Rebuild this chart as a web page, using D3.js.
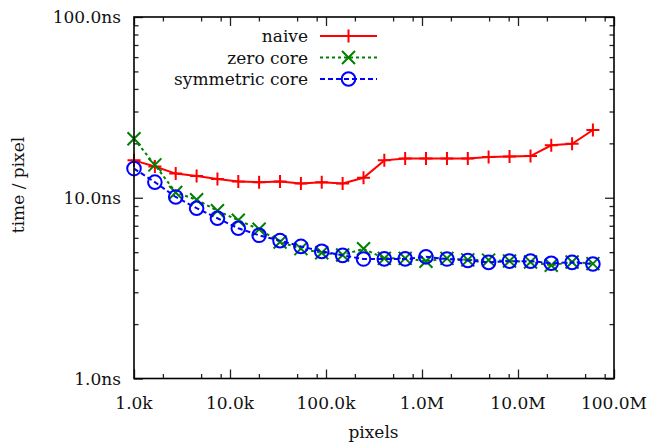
<!DOCTYPE html>
<html>
<head>
<meta charset="utf-8">
<script src="https://cdn.jsdelivr.net/npm/d3@7"></script>
<style>
  html, body { margin: 0; padding: 0; background: #fff; }
  svg { display: block; }
  text { font-family: "DejaVu Serif", serif; fill: #111; }
</style>
</head>
<body>
<svg id="chart" width="652" height="444"></svg>
<script>
// ---- data ----
const pixels = [1000, 1650, 2720, 4490, 7400, 12200, 20100, 33200, 54800, 90300,
  149000, 246000, 405000, 668000, 1100000, 1820000, 3000000, 4940000, 8160000,
  13500000, 22200000, 36600000, 60300000];
const naive = [16.1, 14.9, 13.6, 13.2, 12.7, 12.3, 12.2, 12.3, 12.0, 12.2, 12.0, 12.9,
  16.1, 16.5, 16.5, 16.5, 16.5, 16.8, 16.9, 17.0, 19.5, 19.9, 23.7];
const zeroCore = [21.2, 15.2, 10.7, 9.75, 8.47, 7.51, 6.69, 5.69, 5.23, 4.96, 4.82, 5.22,
  4.62, 4.62, 4.45, 4.62, 4.53, 4.52, 4.47, 4.41, 4.23, 4.41, 4.32];
const symmetricCore = [14.5, 12.2, 10.1, 8.75, 7.70, 6.78, 6.20, 5.79, 5.38, 5.05, 4.80, 4.58,
  4.59, 4.59, 4.71, 4.58, 4.50, 4.39, 4.46, 4.46, 4.34, 4.39, 4.30];
const seriesNames = ["naive", "zero core", "symmetric core"];
const xTickValues = [1e3, 1e4, 1e5, 1e6, 1e7, 1e8];
const xTickLabels = ["1.0k", "10.0k", "100.0k", "1.0M", "10.0M", "100.0M"];
const yTickValues = [1, 10, 100];
const yTickLabels = ["1.0ns", "10.0ns", "100.0ns"];
const xMinorMultipliers = [2, 5, 8];
const yMinorMultipliers = [2, 3, 4, 5, 6, 7, 8, 9];

// ---- layout ----
const L = 134, R = 614, T = 17, B = 378.5;
const FS = 17;
const svg = d3.select("#chart");
const x = d3.scaleLog().domain([1e3, 1e8]).range([L, R]);
const y = d3.scaleLog().domain([1, 100]).range([B, T]);

const series = [
  { name: seriesNames[0], values: naive, color: "#ff0000", dash: null, marker: "plus" },
  { name: seriesNames[1], values: zeroCore, color: "#008000", dash: "3,3", marker: "cross" },
  { name: seriesNames[2], values: symmetricCore, color: "#0000ff", dash: "5,3", marker: "circle" }
];

// minor tick values
const xMinor = [];
for (let d = 1e3; d < 1e8; d *= 10) xMinorMultipliers.forEach(m => xMinor.push(d * m));
const yMinor = [];
for (let d = 1; d < 100; d *= 10) yMinorMultipliers.forEach(m => yMinor.push(d * m));

const tickColor = "#222";
function styleAxis(g) {
  g.select(".domain").remove();
  g.selectAll("line").attr("stroke", tickColor).attr("stroke-width", 1.3);
  g.selectAll("text").remove();
}
svg.append("g").attr("transform", `translate(0,${B})`)
  .call(d3.axisBottom(x).tickValues(xTickValues).tickSize(-9)).call(styleAxis);
svg.append("g").attr("transform", `translate(0,${B})`)
  .call(d3.axisBottom(x).tickValues(xMinor).tickSize(-4.5)).call(styleAxis);
svg.append("g").attr("transform", `translate(0,${T})`)
  .call(d3.axisTop(x).tickValues(xTickValues).tickSize(-9)).call(styleAxis);
svg.append("g").attr("transform", `translate(0,${T})`)
  .call(d3.axisTop(x).tickValues(xMinor).tickSize(-4.5)).call(styleAxis);
svg.append("g").attr("transform", `translate(${L},0)`)
  .call(d3.axisLeft(y).tickValues(yTickValues).tickSize(-9)).call(styleAxis);
svg.append("g").attr("transform", `translate(${L},0)`)
  .call(d3.axisLeft(y).tickValues(yMinor).tickSize(-4.5)).call(styleAxis);
svg.append("g").attr("transform", `translate(${R},0)`)
  .call(d3.axisRight(y).tickValues(yTickValues).tickSize(-9)).call(styleAxis);
svg.append("g").attr("transform", `translate(${R},0)`)
  .call(d3.axisRight(y).tickValues(yMinor).tickSize(-4.5)).call(styleAxis);

// tick labels
svg.append("g").selectAll("text").data(xTickValues).join("text")
  .attr("x", d => x(d)).attr("y", 408.5)
  .attr("text-anchor", "middle").attr("font-size", FS)
  .text((d, i) => xTickLabels[i]);
svg.append("g").selectAll("text").data(yTickValues).join("text")
  .attr("x", 121).attr("y", d => y(d) + 6.2)
  .attr("text-anchor", "end").attr("font-size", FS)
  .text((d, i) => yTickLabels[i]);

// axis titles
svg.append("text").attr("x", 373.5).attr("y", 438)
  .attr("text-anchor", "middle").attr("font-size", FS).text("pixels");
svg.append("text").attr("transform", "translate(23.5,185) rotate(-90)")
  .attr("text-anchor", "middle").attr("font-size", FS).text("time / pixel");

// markers
function drawMarker(g, type, cx, cy, color) {
  const s = 6.5;
  if (type === "plus") {
    g.append("path").attr("d", `M${cx - s},${cy}H${cx + s}M${cx},${cy - s}V${cy + s}`)
      .attr("stroke", color).attr("stroke-width", 2).attr("fill", "none");
  } else if (type === "cross") {
    g.append("path").attr("d", `M${cx - s},${cy - s}L${cx + s},${cy + s}M${cx - s},${cy + s}L${cx + s},${cy - s}`)
      .attr("stroke", color).attr("stroke-width", 2).attr("fill", "none");
  } else {
    g.append("circle").attr("cx", cx).attr("cy", cy).attr("r", 6.8)
      .attr("stroke", color).attr("stroke-width", 2).attr("fill", "none");
  }
}

const plot = svg.append("g");
const line = d3.line().x((d, i) => x(pixels[i])).y(d => y(d));
series.forEach(s => {
  const g = plot.append("g");
  g.append("path").datum(s.values).attr("d", line)
    .attr("fill", "none").attr("stroke", s.color).attr("stroke-width", 2)
    .attr("stroke-dasharray", s.dash);
  s.values.forEach((v, i) => drawMarker(g, s.marker, x(pixels[i]), y(v), s.color));
});

// frame
svg.append("rect").attr("x", L).attr("y", T).attr("width", R - L).attr("height", B - T)
  .attr("fill", "none").attr("stroke", "#000").attr("stroke-width", 1.6);

// legend
const legRows = [36, 57.5, 79];
const leg = svg.append("g");
series.forEach((s, i) => {
  const yy = legRows[i];
  leg.append("text").attr("x", 308).attr("y", yy + 6.2).attr("text-anchor", "end")
    .attr("font-size", FS).text(s.name);
  leg.append("line").attr("x1", 320).attr("x2", 377).attr("y1", yy).attr("y2", yy)
    .attr("stroke", s.color).attr("stroke-width", 2).attr("stroke-dasharray", s.dash);
  drawMarker(leg, s.marker, 348.5, yy, s.color);
});
</script>
</body>
</html>
